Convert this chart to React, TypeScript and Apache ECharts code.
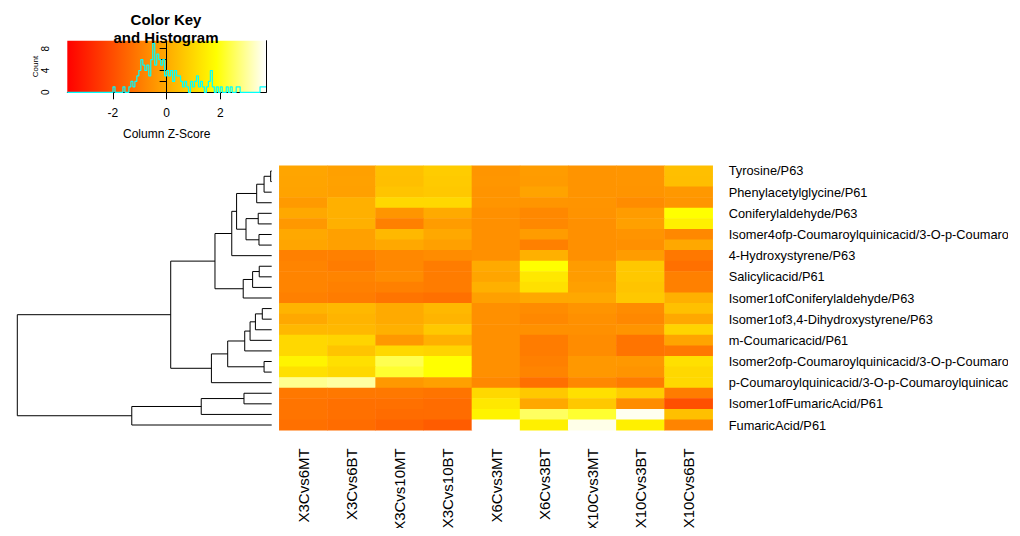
import React, { useEffect, useRef } from 'react';
import * as echarts from 'echarts';

const FONT = 'Liberation Sans, Arial, Helvetica, sans-serif';

const colLabels = ['X3Cvs6MT', 'X3Cvs6BT', 'X3Cvs10MT', 'X3Cvs10BT', 'X6Cvs3MT', 'X6Cvs3BT', 'X10Cvs3MT', 'X10Cvs3BT', 'X10Cvs6BT'];

// 25 rows (top to bottom); only every other row carries a visible label
const rowLabels = [
  'Tyrosine/P63', 'row02',
  'Phenylacetylglycine/P61', 'row04',
  'Coniferylaldehyde/P63', 'row06',
  'Isomer4ofp-Coumaroylquinicacid/3-O-p-Coumaroylquinicacid/P63', 'row08',
  '4-Hydroxystyrene/P63', 'row10',
  'Salicylicacid/P61', 'row12',
  'Isomer1ofConiferylaldehyde/P63', 'row14',
  'Isomer1of3,4-Dihydroxystyrene/P63', 'row16',
  'm-Coumaricacid/P61', 'row18',
  'Isomer2ofp-Coumaroylquinicacid/3-O-p-Coumaroylquinicacid/P63', 'row20',
  'p-Coumaroylquinicacid/3-O-p-Coumaroylquinicacid/P63', 'row22',
  'Isomer1ofFumaricAcid/P61', 'row24',
  'FumaricAcid/P61',
];

// column z-scores, one array per row
const zRows: number[][] = [
  [-0.11, -0.22, 0.48, 0.74, -0.46, -0.30, -0.48, -0.46, 0.46],
  [-0.13, -0.20, 0.45, 0.70, -0.44, -0.33, -0.47, -0.45, 0.44],
  [-0.15, -0.22, 0.57, 0.65, -0.48, -0.15, -0.48, -0.48, -0.39],
  [-0.35, 0.13, 1.00, 1.00, -0.46, -0.46, -0.48, -0.65, -0.46],
  [-0.04, 0.13, -0.46, 0.00, -0.57, -0.74, -0.50, -0.30, 1.85],
  [-0.39, 0.13, -0.91, -0.30, -0.57, -0.74, -0.57, -0.22, 1.52],
  [-0.04, -0.22, 0.30, -0.04, -0.57, -0.30, -0.57, -0.48, -0.74],
  [-0.11, -0.22, -0.04, -0.22, -0.57, -0.91, -0.57, -0.57, -0.04],
  [-0.91, -0.91, -0.74, -0.65, -0.57, 0.13, -0.57, -0.30, -1.09],
  [-0.83, -1.00, -0.74, -1.00, 0.00, 1.85, -0.30, 0.65, -1.26],
  [-0.83, -0.83, -0.65, -1.00, -0.11, 1.35, -0.30, 0.65, -0.91],
  [-0.83, -0.91, -0.91, -1.00, 0.13, 1.18, -0.22, 0.57, -0.91],
  [-0.91, -1.00, -1.18, -1.26, -0.22, -0.04, -0.04, 0.65, 0.13],
  [0.22, 0.30, 0.00, 0.30, -0.57, -0.65, -0.48, -0.65, 0.48],
  [-0.04, 0.22, 0.00, 0.22, -0.57, -0.74, -0.57, -0.74, -0.04],
  [0.30, 0.30, 0.13, 0.65, -0.57, -0.57, -0.57, -0.48, 0.91],
  [1.00, 0.91, -0.39, 0.13, -0.57, -1.00, -0.65, -1.18, -0.13],
  [1.00, 0.57, 1.00, 0.91, -0.57, -1.00, -0.65, -1.18, -1.09],
  [1.61, 1.18, 2.43, 1.85, -0.57, -0.91, -0.39, -0.39, 1.18],
  [1.18, 1.00, 2.20, 1.85, -0.57, -0.83, -0.39, -0.48, 1.00],
  [2.89, 3.01, -0.39, -0.22, -0.74, -1.26, -0.74, -1.00, 1.00],
  [-1.09, -1.09, -1.09, -1.18, 1.00, 0.65, 1.18, 0.74, -1.00],
  [-1.18, -1.26, -1.26, -1.35, 1.35, -0.04, 0.65, -0.65, -1.96],
  [-1.18, -1.26, -1.35, -1.35, 1.61, 2.55, 2.20, 3.59, 0.48],
  [-1.26, -1.35, -1.52, -1.70, 3.70, 1.52, 3.53, 1.52, -0.83],
];

// row dendrogram merges (R hclust style): negative = leaf (row number), positive = earlier merge
const dendroMerges: [number, number, number][] = [
  [-1, -2, 0.04],
  [1, -3, 0.30],
  [2, -4, 0.59],
  [-5, -6, 0.53],
  [-7, -8, 0.50],
  [4, 5, 1.01],
  [3, 6, 1.38],
  [7, -9, 1.57],
  [-10, -11, 0.49],
  [9, -12, 0.75],
  [10, -13, 1.12],
  [8, 11, 2.23],
  [-14, -15, 0.37],
  [13, -16, 0.64],
  [14, -17, 0.85],
  [15, -18, 1.06],
  [-19, -20, 0.30],
  [16, 17, 1.73],
  [18, -21, 2.37],
  [12, 19, 3.97],
  [-22, -23, 1.09],
  [21, -24, 2.77],
  [22, -25, 5.50],
  [20, 23, 10.0],
];

// histogram counts of the z-scores (100 equal bins from keyMin to keyMax)
const histCounts = [
  0, 0, 0, 0, 0, 0, 0, 0, 0, 0,
  0, 0, 0, 0, 0, 0, 0, 0, 0, 0,
  0, 0, 0, 1, 0, 0, 0, 0, 1, 0,
  0, 1, 2, 1, 2, 3, 4, 6, 5, 4,
  5, 3, 6, 9, 5, 7, 6, 5, 6, 3,
  4, 3, 4, 2, 4, 3, 3, 2, 1, 2,
  1, 0, 2, 1, 2, 3, 1, 2, 1, 0,
  1, 2, 4, 1, 0, 1, 0, 1, 0, 0,
  1, 0, 1, 0, 0, 1, 1, 0, 0, 0,
  0, 0, 0, 0, 0, 0, 0, 1, 1, 1,
];

const keyMin = -3.7;
const keyMax = 3.7;
const keyTicks = [-2, 0, 2];
const countTicks = [0, 2, 4, 6, 8];
const countLabels = [0, 4, 8];
const heatColors = ['#FF0000', '#FF5500', '#FFAA00', '#FFFF00', '#FFFFFF'];

export default function App() {
  const ref = useRef<HTMLDivElement>(null);

  useEffect(() => {
    if (!ref.current) return;
    const chart = echarts.init(ref.current, null, { renderer: 'svg' });

    const heatData: number[][] = [];
    zRows.forEach((row, r) => row.forEach((v, c) => heatData.push([c, r, v])));

    const nodes: { y: number; h: number }[] = [];
    const segs: number[][] = [];
    const get = (id: number) => (id < 0 ? { y: -id, h: 0 } : nodes[id - 1]);
    dendroMerges.forEach(([a, b, h]) => {
      const A = get(a);
      const B = get(b);
      segs.push([A.y, A.h, B.y, B.h, h]);
      nodes.push({ y: (A.y + B.y) / 2, h });
    });
    const rootH = dendroMerges[dendroMerges.length - 1][2];

    const nb = histCounts.length;
    const bw = (keyMax - keyMin) / nb;
    const histData: number[][] = histCounts.map((c, i) => [keyMin + i * bw, c]);
    histData.push([keyMax, histCounts[nb - 1]]);
    const histTop = Math.max(...histCounts) / 0.95;

    const gradientStops = heatColors.map((color, i) => ({ offset: i / (heatColors.length - 1), color }));

    chart.setOption({
      animation: false,
      textStyle: { fontFamily: FONT },
      graphic: [
        {
          type: 'text',
          x: 158,
          y: 2,
          z: 100,
          style: {
            text: 'Color Key\nand Histogram',
            font: 'bold 15px ' + FONT,
            fontSize: 15,
            fontWeight: 'bold',
            fontFamily: FONT,
            lineHeight: 18,
            align: 'center',
            verticalAlign: 'top',
            textAlign: 'center',
            textVerticalAlign: 'top',
            fill: '#000',
          },
        },
      ],
      grid: [
        { left: 271.3, top: 157.7, width: 433.4, height: 264.6, outerBoundsMode: 'none', containLabel: false },
        { left: 9.3, top: 157.7, width: 254.4, height: 264.6, outerBoundsMode: 'none', containLabel: false },
        {
          left: 59.3, top: 32.7, width: 198.7, height: 51.6, outerBoundsMode: 'none', containLabel: false,
          show: true, borderWidth: 0,
          backgroundColor: { type: 'linear', x: 0, y: 0, x2: 1, y2: 0, colorStops: gradientStops },
        },
      ],
      visualMap: {
        type: 'continuous',
        show: false,
        seriesIndex: 0,
        min: keyMin,
        max: keyMax,
        inRange: { color: heatColors },
      },
      xAxis: [
        {
          type: 'category', gridIndex: 0, data: colLabels, position: 'bottom',
          axisLine: { show: false }, axisTick: { show: false }, splitLine: { show: false },
          axisLabel: { rotate: 90, fontSize: 15, color: '#000', margin: 18, interval: 0, fontFamily: FONT },
        },
        { type: 'value', gridIndex: 1, min: 0, max: rootH, inverse: true, show: false },
        {
          type: 'value', gridIndex: 2, min: keyMin, max: keyMax,
          axisLine: { show: true, lineStyle: { color: '#000', width: 1 } },
          axisTick: { show: true, customValues: keyTicks, length: 7, lineStyle: { color: '#000' } },
          axisLabel: { show: true, customValues: keyTicks, fontSize: 12, color: '#000', margin: 15, fontFamily: FONT },
          splitLine: { show: false },
          name: 'Column Z-Score', nameLocation: 'middle', nameGap: 36,
          nameTextStyle: { fontSize: 12, color: '#000', fontFamily: FONT },
        },
      ],
      yAxis: [
        {
          type: 'category', gridIndex: 0, data: rowLabels, inverse: true, position: 'right',
          axisLine: { show: false }, axisTick: { show: false }, splitLine: { show: false },
          axisLabel: { fontSize: 12.8, color: '#000', margin: 16, interval: 1, fontFamily: FONT, padding: [4, 0, 0, 0] },
        },
        { type: 'value', gridIndex: 1, min: 0.5, max: 25.5, inverse: true, show: false },
        {
          type: 'value', gridIndex: 2, min: 0, max: histTop, position: 'left',
          axisLine: { show: true, lineStyle: { color: '#000', width: 1 } },
          axisTick: { show: true, customValues: countTicks, length: 7, lineStyle: { color: '#000' } },
          axisLabel: {
            show: true, customValues: countLabels, rotate: 90, fontSize: 10, color: '#000',
            margin: 17, align: 'center', verticalAlign: 'bottom', fontFamily: FONT,
          },
          splitLine: { show: false },
          name: 'Count', nameLocation: 'middle', nameGap: 28, nameRotate: 90, nameMoveOverlap: false,
          nameTextStyle: { fontSize: 8, color: '#000', fontFamily: FONT },
        },
        {
          type: 'value', gridIndex: 2, min: 0, max: histTop, position: 'right',
          axisLine: { show: true, lineStyle: { color: '#000', width: 1 } },
          axisTick: { show: false }, axisLabel: { show: false }, splitLine: { show: false },
        },
      ],
      series: [
        {
          type: 'heatmap', xAxisIndex: 0, yAxisIndex: 0, data: heatData,
          itemStyle: { borderWidth: 0 }, emphasis: { disabled: true }, silent: true,
        },
        {
          type: 'custom', xAxisIndex: 1, yAxisIndex: 1, data: segs, silent: true,
          encode: { x: [1, 3, 4], y: [0, 2] },
          renderItem: (params: any, api: any) => {
            const yL = api.value(0), hL = api.value(1), yR = api.value(2), hR = api.value(3), h = api.value(4);
            const pts = [api.coord([hL, yL]), api.coord([h, yL]), api.coord([h, yR]), api.coord([hR, yR])];
            return {
              type: 'polyline',
              shape: { points: pts },
              style: { stroke: '#000', lineWidth: 1, fill: 'none' },
            };
          },
        },
        {
          type: 'line', xAxisIndex: 2, yAxisIndex: 2, data: histData, step: 'end',
          symbol: 'none', silent: true,
          lineStyle: { color: '#00FFFF', width: 1.2 }, itemStyle: { color: '#00FFFF' },
        },
      ],
    });

    return () => chart.dispose();
  }, []);

  return <div ref={ref} style={{ width: 1000, height: 528, marginBottom: -8 }} />;
}
